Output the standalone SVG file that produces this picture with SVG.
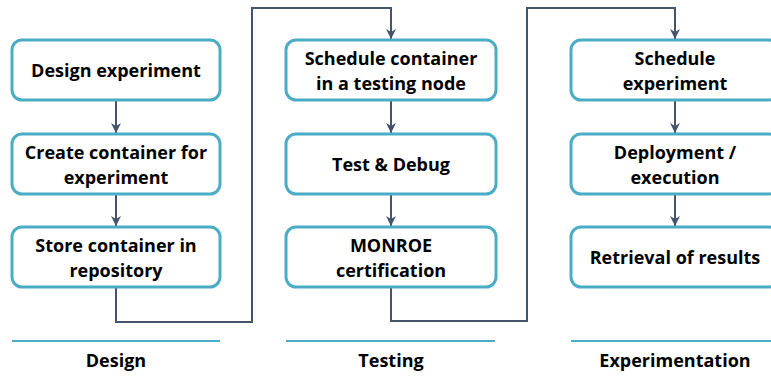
<svg xmlns="http://www.w3.org/2000/svg" width="771" height="376" viewBox="0 0 771 376">
<style>
.box{fill:#fff;stroke:#4BACC6;stroke-width:3}
.t{font-family:"Open Sans","Liberation Sans",sans-serif;font-weight:bold;font-size:18px;fill:#000;text-anchor:middle}
.c{fill:none;stroke:#44546A;stroke-width:2}
.sep{stroke:#4BACC6;stroke-width:2}
</style>
<defs>
<marker id="ah" viewBox="0 0 10 10" refX="10" refY="5" markerWidth="10" markerHeight="10" markerUnits="userSpaceOnUse" orient="auto">
<path d="M0,0 L10,5 L0,10 L3,5 Z" fill="#44546A"/>
</marker>
</defs>
<rect width="771" height="376" fill="#fff"/>
<g id="connectors">
<line class="c" x1="116" y1="100" x2="116" y2="133" marker-end="url(#ah)"/>
<line class="c" x1="116" y1="194" x2="116" y2="226" marker-end="url(#ah)"/>
<path class="c" d="M116,288 V322 H252 V8 H391 V39" marker-end="url(#ah)"/>
<line class="c" x1="391" y1="100" x2="391" y2="133" marker-end="url(#ah)"/>
<line class="c" x1="391" y1="194" x2="391" y2="226" marker-end="url(#ah)"/>
<path class="c" d="M391,288 V321 H527 V8 H675 V39" marker-end="url(#ah)"/>
<line class="c" x1="675" y1="100" x2="675" y2="133" marker-end="url(#ah)"/>
<line class="c" x1="675" y1="194" x2="675" y2="226" marker-end="url(#ah)"/>
</g>
<g id="design-experiment"><rect class="box" x="12" y="40" width="208" height="60" rx="10"/><text class="t" x="116" y="77">Design experiment</text></g>
<g id="create-container"><rect class="box" x="12" y="134" width="208" height="60" rx="10"/><text class="t" x="116" y="158.5">Create container for</text><text class="t" x="116" y="183.5">experiment</text></g>
<g id="store-container"><rect class="box" x="12" y="227" width="208" height="60" rx="10"/><text class="t" x="116" y="251.5">Store container in</text><text class="t" x="116" y="276.5">repository</text></g>
<g id="schedule-container"><rect class="box" x="286" y="40" width="210" height="60" rx="10"/><text class="t" x="391" y="64.5">Schedule container</text><text class="t" x="391" y="89.5">in a testing node</text></g>
<g id="test-debug"><rect class="box" x="286" y="134" width="210" height="60" rx="10"/><text class="t" x="391" y="171">Test &amp; Debug</text></g>
<g id="monroe-cert"><rect class="box" x="286" y="227" width="210" height="60" rx="10"/><text class="t" x="391" y="251.5">MONROE</text><text class="t" x="391" y="276.5">certification</text></g>
<g id="schedule-experiment"><rect class="box" x="571" y="40" width="208" height="60" rx="10"/><text class="t" x="675" y="64.5">Schedule</text><text class="t" x="675" y="89.5">experiment</text></g>
<g id="deployment"><rect class="box" x="571" y="134" width="208" height="60" rx="10"/><text class="t" x="675" y="158.5">Deployment /</text><text class="t" x="675" y="183.5">execution</text></g>
<g id="retrieval"><rect class="box" x="571" y="227" width="208" height="60" rx="10"/><text class="t" x="675" y="264">Retrieval of results</text></g>
<g id="phase-design"><line class="sep" x1="12" y1="341" x2="220" y2="341"/><text class="t" x="116" y="367">Design</text></g>
<g id="phase-testing"><line class="sep" x1="286" y1="341" x2="495" y2="341"/><text class="t" x="391" y="367">Testing</text></g>
<g id="phase-experimentation"><line class="sep" x1="571" y1="341" x2="779" y2="341"/><text class="t" x="675" y="367">Experimentation</text></g>
</svg>
